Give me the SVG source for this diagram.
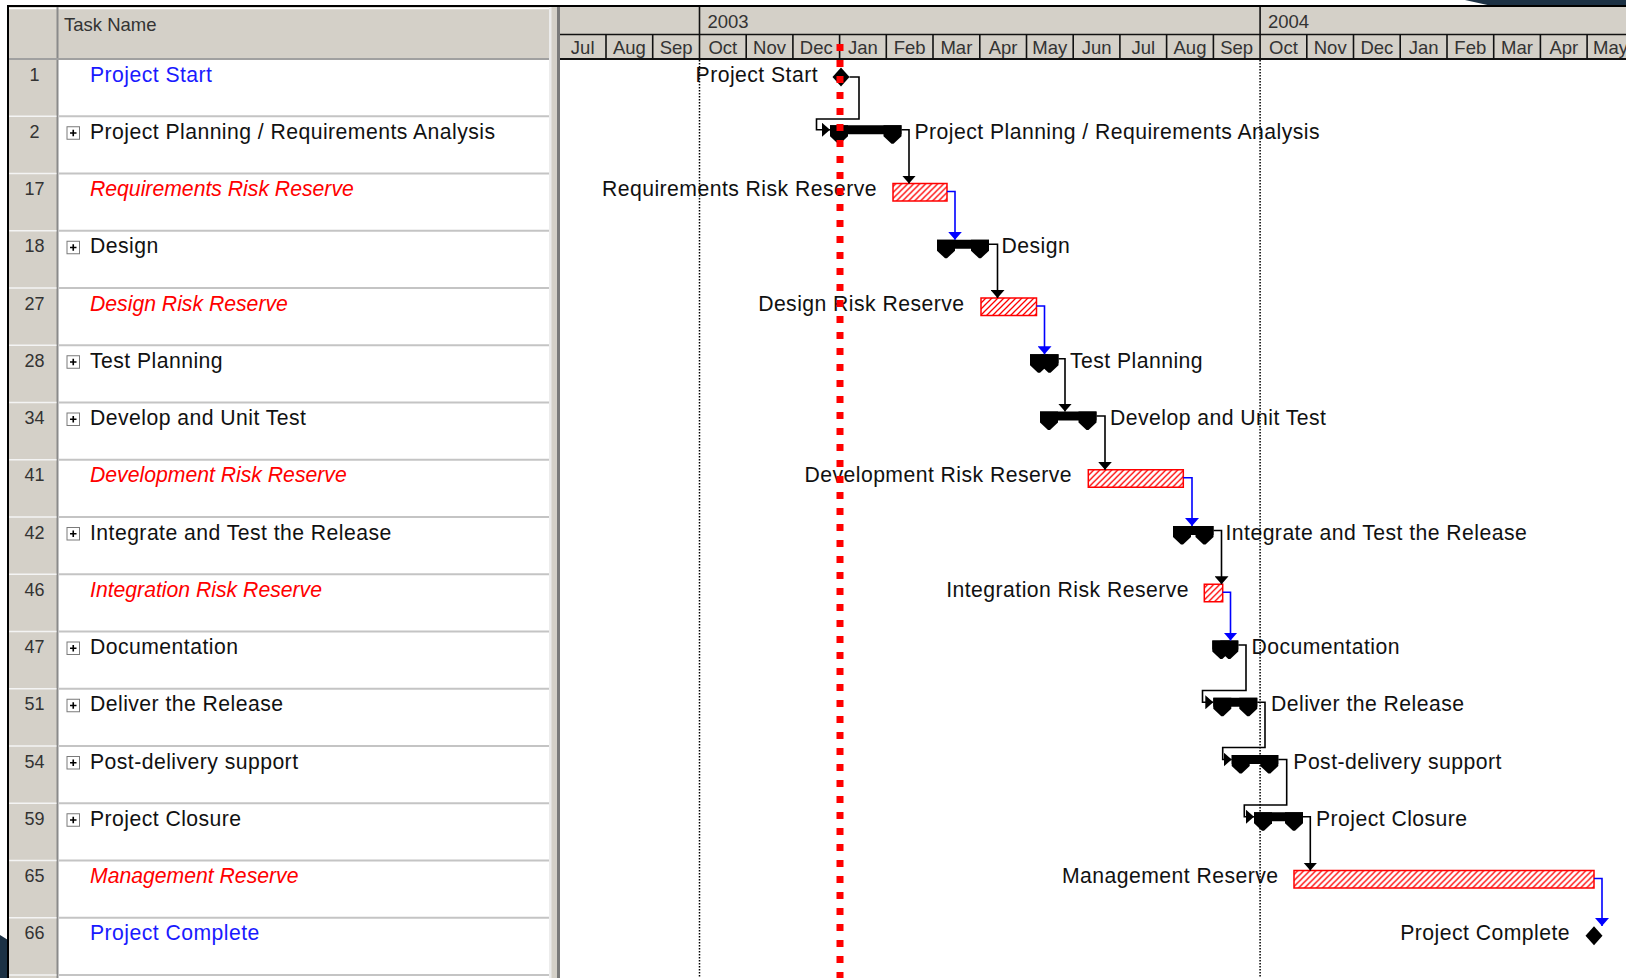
<svg xmlns="http://www.w3.org/2000/svg" xmlns:xlink="http://www.w3.org/1999/xlink" width="1626" height="978" viewBox="0 0 1626 978">
<style>
text{font-family:"Liberation Sans",Arial,sans-serif}
.id{font-size:18px;fill:#333;text-anchor:middle}
.tn{font-size:21.2px;fill:#111;letter-spacing:0.45px}
.ms{fill:#1a1aff}
.rr{fill:#ff0000;font-style:italic;letter-spacing:0}
.lb{font-size:21.2px;fill:#111;letter-spacing:0.45px}
.lbe{font-size:21.2px;fill:#111;text-anchor:end;letter-spacing:0.45px}
.hd{font-size:18.5px;fill:#333}
.mo{font-size:18.5px;fill:#333;text-anchor:middle}
.sum{fill:#000}
.hatch{fill:url(#hatch);stroke:#ff0000;stroke-width:1.5}
.cb{fill:none;stroke:#000;stroke-width:1.6;marker-end:url(#ah)}
.cu{fill:none;stroke:#0000ff;stroke-width:1.6;marker-end:url(#au)}
.sep{stroke:#c4c4c4;stroke-width:2}
.sepid{stroke:#f4f4f4;stroke-width:1.5}
.msep{stroke:#111;stroke-width:1.6}
</style>
<defs>
<pattern id="hatch" patternUnits="userSpaceOnUse" width="6" height="6">
<rect width="6" height="6" fill="#fff"/>
<path d="M-1,1 L1,-1 M0,6 L6,0 M5,7 L7,5" stroke="#ff0000" stroke-width="1.3"/>
</pattern>
<marker id="ah" viewBox="0 0 8 14" refX="8" refY="7" markerWidth="8" markerHeight="14" markerUnits="userSpaceOnUse" orient="auto"><path d="M0,0 L8,7 L0,14 Z" fill="#000"/></marker>
<marker id="au" viewBox="0 0 8 14" refX="8" refY="7" markerWidth="8" markerHeight="14" markerUnits="userSpaceOnUse" orient="auto"><path d="M0,0 L8,7 L0,14 Z" fill="#0000ff"/></marker>
<g id="plus"><rect x="0.5" y="0.5" width="12.5" height="12.5" fill="#fff" stroke="#7a7a7a"/><path d="M3.5,6.75 H10 M6.75,3.5 V10" stroke="#000" stroke-width="1.6"/></g>
</defs>

<!-- background -->
<rect width="1626" height="978" fill="#fff"/>
<polygon points="1465,0 1626,0 1626,6 1492,6" fill="#1c3144"/>
<polygon points="0,935 8,940 8,978 0,978" fill="#1c3144"/>

<!-- table -->
<g id="table">
<rect x="9" y="7" width="540" height="52" fill="#d4d0c8"/>
<line x1="9" y1="8.5" x2="549" y2="8.5" stroke="#fff" stroke-width="1.5"/>
<rect x="9" y="59" width="49" height="919" fill="#d4d0c8"/>
<rect x="58" y="59" width="491" height="919" fill="#fff"/>
<line x1="57.5" y1="7" x2="57.5" y2="978" stroke="#8a8a8a" stroke-width="2"/>
<line x1="9" y1="59" x2="549" y2="59" stroke="#a0a0a0" stroke-width="2"/>
<text class="hd" x="64" y="31">Task Name</text>
<g id="rowlines">
<line class="sep" x1="58" y1="116.25" x2="549" y2="116.25"/><line class="sepid" x1="9" y1="116.25" x2="56.5" y2="116.25"/>
<line class="sep" x1="58" y1="173.5" x2="549" y2="173.5"/><line class="sepid" x1="9" y1="173.5" x2="56.5" y2="173.5"/>
<line class="sep" x1="58" y1="230.75" x2="549" y2="230.75"/><line class="sepid" x1="9" y1="230.75" x2="56.5" y2="230.75"/>
<line class="sep" x1="58" y1="288" x2="549" y2="288"/><line class="sepid" x1="9" y1="288" x2="56.5" y2="288"/>
<line class="sep" x1="58" y1="345.25" x2="549" y2="345.25"/><line class="sepid" x1="9" y1="345.25" x2="56.5" y2="345.25"/>
<line class="sep" x1="58" y1="402.5" x2="549" y2="402.5"/><line class="sepid" x1="9" y1="402.5" x2="56.5" y2="402.5"/>
<line class="sep" x1="58" y1="459.75" x2="549" y2="459.75"/><line class="sepid" x1="9" y1="459.75" x2="56.5" y2="459.75"/>
<line class="sep" x1="58" y1="517" x2="549" y2="517"/><line class="sepid" x1="9" y1="517" x2="56.5" y2="517"/>
<line class="sep" x1="58" y1="574.25" x2="549" y2="574.25"/><line class="sepid" x1="9" y1="574.25" x2="56.5" y2="574.25"/>
<line class="sep" x1="58" y1="631.5" x2="549" y2="631.5"/><line class="sepid" x1="9" y1="631.5" x2="56.5" y2="631.5"/>
<line class="sep" x1="58" y1="688.75" x2="549" y2="688.75"/><line class="sepid" x1="9" y1="688.75" x2="56.5" y2="688.75"/>
<line class="sep" x1="58" y1="746" x2="549" y2="746"/><line class="sepid" x1="9" y1="746" x2="56.5" y2="746"/>
<line class="sep" x1="58" y1="803.25" x2="549" y2="803.25"/><line class="sepid" x1="9" y1="803.25" x2="56.5" y2="803.25"/>
<line class="sep" x1="58" y1="860.5" x2="549" y2="860.5"/><line class="sepid" x1="9" y1="860.5" x2="56.5" y2="860.5"/>
<line class="sep" x1="58" y1="917.75" x2="549" y2="917.75"/><line class="sepid" x1="9" y1="917.75" x2="56.5" y2="917.75"/>
<line class="sep" x1="58" y1="975" x2="549" y2="975"/><line class="sepid" x1="9" y1="975" x2="56.5" y2="975"/>
</g>
<!-- splitter -->
<rect x="549" y="7" width="11" height="971" fill="#d4d0c8"/>
<rect x="549" y="7" width="2.5" height="971" fill="#ececec"/>
<rect x="557" y="7" width="3" height="971" fill="#7a7a7a"/>
</g>

<!-- timescale -->
<g id="timescale">
<rect x="560" y="7" width="1066" height="52" fill="#d4d0c8"/>
<line x1="560" y1="34.5" x2="1626" y2="34.5" stroke="#111" stroke-width="1.6"/>
<line x1="560" y1="59" x2="1626" y2="59" stroke="#111" stroke-width="2"/>
<line x1="699.5" y1="7" x2="699.5" y2="59" stroke="#111" stroke-width="1.6"/>
<line x1="1260.1" y1="7" x2="1260.1" y2="59" stroke="#111" stroke-width="1.6"/>
<text class="hd" x="707.5" y="27.5">2003</text>
<text class="hd" x="1268" y="27.5">2004</text>
<g>
<line class="msep" x1="606" y1="34.5" x2="606" y2="59"/>
<line class="msep" x1="652.7" y1="34.5" x2="652.7" y2="59"/>
<line class="msep" x1="746.2" y1="34.5" x2="746.2" y2="59"/>
<line class="msep" x1="792.9" y1="34.5" x2="792.9" y2="59"/>
<line class="msep" x1="839.6" y1="34.5" x2="839.6" y2="59"/>
<line class="msep" x1="886.3" y1="34.5" x2="886.3" y2="59"/>
<line class="msep" x1="933" y1="34.5" x2="933" y2="59"/>
<line class="msep" x1="979.8" y1="34.5" x2="979.8" y2="59"/>
<line class="msep" x1="1026.5" y1="34.5" x2="1026.5" y2="59"/>
<line class="msep" x1="1073.2" y1="34.5" x2="1073.2" y2="59"/>
<line class="msep" x1="1119.9" y1="34.5" x2="1119.9" y2="59"/>
<line class="msep" x1="1166.6" y1="34.5" x2="1166.6" y2="59"/>
<line class="msep" x1="1213.4" y1="34.5" x2="1213.4" y2="59"/>
<line class="msep" x1="1306.8" y1="34.5" x2="1306.8" y2="59"/>
<line class="msep" x1="1353.5" y1="34.5" x2="1353.5" y2="59"/>
<line class="msep" x1="1400.2" y1="34.5" x2="1400.2" y2="59"/>
<line class="msep" x1="1447" y1="34.5" x2="1447" y2="59"/>
<line class="msep" x1="1493.7" y1="34.5" x2="1493.7" y2="59"/>
<line class="msep" x1="1540.4" y1="34.5" x2="1540.4" y2="59"/>
<line class="msep" x1="1587.1" y1="34.5" x2="1587.1" y2="59"/>
</g>
<g>
<text class="mo" x="582.7" y="53.5">Jul</text>
<text class="mo" x="629.4" y="53.5">Aug</text>
<text class="mo" x="676.1" y="53.5">Sep</text>
<text class="mo" x="722.8" y="53.5">Oct</text>
<text class="mo" x="769.5" y="53.5">Nov</text>
<text class="mo" x="816.3" y="53.5">Dec</text>
<text class="mo" x="863" y="53.5">Jan</text>
<text class="mo" x="909.7" y="53.5">Feb</text>
<text class="mo" x="956.4" y="53.5">Mar</text>
<text class="mo" x="1003.1" y="53.5">Apr</text>
<text class="mo" x="1049.8" y="53.5">May</text>
<text class="mo" x="1096.6" y="53.5">Jun</text>
<text class="mo" x="1143.3" y="53.5">Jul</text>
<text class="mo" x="1190" y="53.5">Aug</text>
<text class="mo" x="1236.7" y="53.5">Sep</text>
<text class="mo" x="1283.4" y="53.5">Oct</text>
<text class="mo" x="1330.2" y="53.5">Nov</text>
<text class="mo" x="1376.9" y="53.5">Dec</text>
<text class="mo" x="1423.6" y="53.5">Jan</text>
<text class="mo" x="1470.3" y="53.5">Feb</text>
<text class="mo" x="1517" y="53.5">Mar</text>
<text class="mo" x="1563.8" y="53.5">Apr</text>
<text class="mo" x="1610.5" y="53.5">May</text>
</g>
</g>

<!-- tasks -->
<g id="task-1" transform="translate(0,59)">
<text class="id" x="34.5" y="21.5">1</text>
<text class="tn ms" x="90" y="22.5">Project Start</text>
<polygon class="sum" points="841,8.5 849.5,18 841,27.5 832.5,18"/>
<text class="lbe" x="818" y="22.5">Project Start</text>
</g>
<g id="task-2" transform="translate(0,116.25)">
<text class="id" x="34.5" y="21.5">2</text>
<use xlink:href="#plus" x="66.5" y="10"/>
<text class="tn" x="90" y="22.5">Project Planning / Requirements Analysis</text>
<g class="sum"><rect x="830" y="9" width="71.5" height="9"/><polygon points="830,9 848,9 848,20 840,27.5 838,27.5 830,20"/><polygon points="883.5,9 901.5,9 901.5,20 893.5,27.5 891.5,27.5 883.5,20"/></g>
<text class="lb" x="914.5" y="22.5">Project Planning / Requirements Analysis</text>
</g>
<g id="task-17" transform="translate(0,173.5)">
<text class="id" x="34.5" y="21.5">17</text>
<text class="tn rr" x="90" y="22.5">Requirements Risk Reserve</text>
<rect class="hatch" x="893" y="10" width="54" height="17.5"/>
<text class="lbe" x="877" y="22.5">Requirements Risk Reserve</text>
</g>
<g id="task-18" transform="translate(0,230.75)">
<text class="id" x="34.5" y="21.5">18</text>
<use xlink:href="#plus" x="66.5" y="10"/>
<text class="tn" x="90" y="22.5">Design</text>
<g class="sum"><rect x="937" y="9" width="52" height="9"/><polygon points="937,9 955,9 955,20 947,27.5 945,27.5 937,20"/><polygon points="971,9 989,9 989,20 981,27.5 979,27.5 971,20"/></g>
<text class="lb" x="1001.5" y="22.5">Design</text>
</g>
<g id="task-27" transform="translate(0,288)">
<text class="id" x="34.5" y="21.5">27</text>
<text class="tn rr" x="90" y="22.5">Design Risk Reserve</text>
<rect class="hatch" x="981" y="10" width="55.5" height="17.5"/>
<text class="lbe" x="964.5" y="22.5">Design Risk Reserve</text>
</g>
<g id="task-28" transform="translate(0,345.25)">
<text class="id" x="34.5" y="21.5">28</text>
<use xlink:href="#plus" x="66.5" y="10"/>
<text class="tn" x="90" y="22.5">Test Planning</text>
<g class="sum"><rect x="1030" y="9" width="28.5" height="9"/><polygon points="1030,9 1048,9 1048,20 1040,27.5 1038,27.5 1030,20"/><polygon points="1040.5,9 1058.5,9 1058.5,20 1050.5,27.5 1048.5,27.5 1040.5,20"/></g>
<text class="lb" x="1070" y="22.5">Test Planning</text>
</g>
<g id="task-34" transform="translate(0,402.5)">
<text class="id" x="34.5" y="21.5">34</text>
<use xlink:href="#plus" x="66.5" y="10"/>
<text class="tn" x="90" y="22.5">Develop and Unit Test</text>
<g class="sum"><rect x="1040" y="9" width="56.5" height="9"/><polygon points="1040,9 1058,9 1058,20 1050,27.5 1048,27.5 1040,20"/><polygon points="1078.5,9 1096.5,9 1096.5,20 1088.5,27.5 1086.5,27.5 1078.5,20"/></g>
<text class="lb" x="1110" y="22.5">Develop and Unit Test</text>
</g>
<g id="task-41" transform="translate(0,459.75)">
<text class="id" x="34.5" y="21.5">41</text>
<text class="tn rr" x="90" y="22.5">Development Risk Reserve</text>
<rect class="hatch" x="1088.3" y="10" width="95" height="17.5"/>
<text class="lbe" x="1072" y="22.5">Development Risk Reserve</text>
</g>
<g id="task-42" transform="translate(0,517)">
<text class="id" x="34.5" y="21.5">42</text>
<use xlink:href="#plus" x="66.5" y="10"/>
<text class="tn" x="90" y="22.5">Integrate and Test the Release</text>
<g class="sum"><rect x="1173" y="9" width="40.5" height="9"/><polygon points="1173,9 1191,9 1191,20 1183,27.5 1181,27.5 1173,20"/><polygon points="1195.5,9 1213.5,9 1213.5,20 1205.5,27.5 1203.5,27.5 1195.5,20"/></g>
<text class="lb" x="1225.5" y="22.5">Integrate and Test the Release</text>
</g>
<g id="task-46" transform="translate(0,574.25)">
<text class="id" x="34.5" y="21.5">46</text>
<text class="tn rr" x="90" y="22.5">Integration Risk Reserve</text>
<rect class="hatch" x="1204.3" y="10" width="18.4" height="17.5"/>
<text class="lbe" x="1189" y="22.5">Integration Risk Reserve</text>
</g>
<g id="task-47" transform="translate(0,631.5)">
<text class="id" x="34.5" y="21.5">47</text>
<use xlink:href="#plus" x="66.5" y="10"/>
<text class="tn" x="90" y="22.5">Documentation</text>
<g class="sum"><rect x="1212.3" y="9" width="26" height="9"/><polygon points="1212.3,9 1230.3,9 1230.3,20 1222.3,27.5 1220.3,27.5 1212.3,20"/><polygon points="1220.3,9 1238.3,9 1238.3,20 1230.3,27.5 1228.3,27.5 1220.3,20"/></g>
<text class="lb" x="1251.5" y="22.5">Documentation</text>
</g>
<g id="task-51" transform="translate(0,688.75)">
<text class="id" x="34.5" y="21.5">51</text>
<use xlink:href="#plus" x="66.5" y="10"/>
<text class="tn" x="90" y="22.5">Deliver the Release</text>
<g class="sum"><rect x="1213.3" y="9" width="44" height="9"/><polygon points="1213.3,9 1231.3,9 1231.3,20 1223.3,27.5 1221.3,27.5 1213.3,20"/><polygon points="1239.3,9 1257.3,9 1257.3,20 1249.3,27.5 1247.3,27.5 1239.3,20"/></g>
<text class="lb" x="1271" y="22.5">Deliver the Release</text>
</g>
<g id="task-54" transform="translate(0,746)">
<text class="id" x="34.5" y="21.5">54</text>
<use xlink:href="#plus" x="66.5" y="10"/>
<text class="tn" x="90" y="22.5">Post-delivery support</text>
<g class="sum"><rect x="1231.7" y="9" width="46.6" height="9"/><polygon points="1231.7,9 1249.7,9 1249.7,20 1241.7,27.5 1239.7,27.5 1231.7,20"/><polygon points="1260.3,9 1278.3,9 1278.3,20 1270.3,27.5 1268.3,27.5 1260.3,20"/></g>
<text class="lb" x="1293.3" y="22.5">Post-delivery support</text>
</g>
<g id="task-59" transform="translate(0,803.25)">
<text class="id" x="34.5" y="21.5">59</text>
<use xlink:href="#plus" x="66.5" y="10"/>
<text class="tn" x="90" y="22.5">Project Closure</text>
<g class="sum"><rect x="1254" y="9" width="49" height="9"/><polygon points="1254,9 1272,9 1272,20 1264,27.5 1262,27.5 1254,20"/><polygon points="1285,9 1303,9 1303,20 1295,27.5 1293,27.5 1285,20"/></g>
<text class="lb" x="1316" y="22.5">Project Closure</text>
</g>
<g id="task-65" transform="translate(0,860.5)">
<text class="id" x="34.5" y="21.5">65</text>
<text class="tn rr" x="90" y="22.5">Management Reserve</text>
<rect class="hatch" x="1294" y="10" width="300" height="17.5"/>
<text class="lbe" x="1278.5" y="22.5">Management Reserve</text>
</g>
<g id="task-66" transform="translate(0,917.75)">
<text class="id" x="34.5" y="21.5">66</text>
<text class="tn ms" x="90" y="22.5">Project Complete</text>
<polygon class="sum" points="1594,8.5 1602.5,18 1594,27.5 1585.5,18"/>
<text class="lbe" x="1570" y="22.5">Project Complete</text>
</g>

<!-- connectors -->
<g id="connectors">
<path class="cb" d="M849.5,77 H859 V119 H816.5 V129.75 H830"/>
<path class="cb" d="M901.5,129.75 H909 V183.5"/>
<path class="cu" d="M947,191.5 H955 V239.75"/>
<path class="cb" d="M989,244.25 H997.5 V298"/>
<path class="cu" d="M1036.5,306 H1044.5 V354.25"/>
<path class="cb" d="M1058.5,358.75 H1065 V411.5"/>
<path class="cb" d="M1096.5,416 H1105 V469.75"/>
<path class="cu" d="M1183.3,477.75 H1192 V526"/>
<path class="cb" d="M1213.5,530.5 H1221.5 V584.25"/>
<path class="cu" d="M1222.7,592.25 H1230.5 V640.5"/>
<path class="cb" d="M1238.3,645 H1246 V690.5 H1202.5 V702.25 H1213.3"/>
<path class="cb" d="M1257.3,702.25 H1265 V747.5 H1222.7 V759.5 H1231.7"/>
<path class="cb" d="M1278.3,759.5 H1286.7 V805 H1244.3 V816.75 H1254"/>
<path class="cb" d="M1303,816.75 H1310.3 V870.5"/>
<path class="cu" d="M1594,878.5 H1602 V926"/>
</g>

<!-- gridlines -->
<g id="gridlines">
<line x1="699.5" y1="60" x2="699.5" y2="978" stroke="#000" stroke-width="1.5" stroke-dasharray="1.5 1.5"/>
<line x1="1260.1" y1="60" x2="1260.1" y2="978" stroke="#000" stroke-width="1.5" stroke-dasharray="1.5 1.5"/>
<line x1="840" y1="44" x2="840" y2="978" stroke="#ff0000" stroke-width="7" stroke-dasharray="7 9"/>
</g>

<!-- frame -->
<rect x="7" y="5" width="1619" height="2" fill="#000"/>
<rect x="7" y="5" width="2" height="973" fill="#000"/>
</svg>
